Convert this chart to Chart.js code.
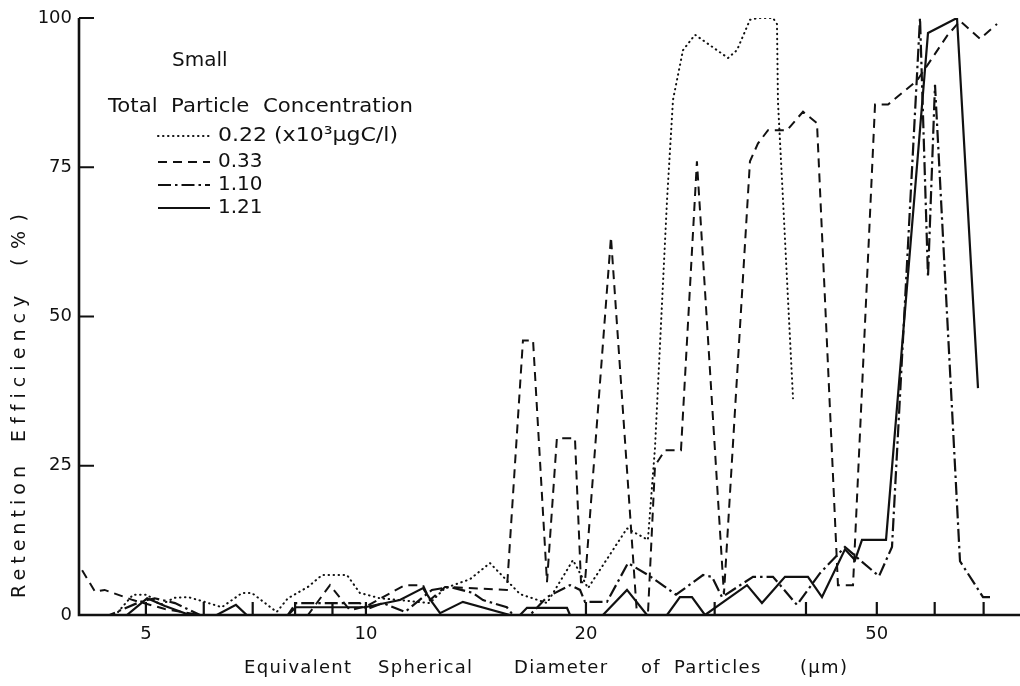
<!DOCTYPE html>
<html>
<head>
<meta charset="utf-8">
<script src="https://cdn.jsdelivr.net/npm/chart.js@4.4.1/dist/chart.umd.min.js"></script>
<style>
  html, body { margin: 0; padding: 0; background: #fff; }
  #wrap { width: 1020px; height: 686px; }
</style>
</head>
<body>
<div id="wrap"><canvas id="chart" width="1020" height="686"></canvas></div>
<script>
/* Retention efficiency vs particle diameter, "Small" filter, four concentrations. */

const INK = "#111";
const FONT = "'DejaVu Sans', 'Liberation Sans', sans-serif";

// axis range and ticks
const xMin = 4.05;
const xMax = 78.5;
const xTickValues = [5, 6, 7, 8, 9, 10, 20, 30, 40, 50, 60, 70];
const xTickLabels = [5, 10, 20, 50];
const yTickValues = [0, 25, 50, 75, 100];

const seriesNames = ["0.22 (x10³µgC/l)", "0.33", "1.10", "1.21"];

// diameter (µm) and retention efficiency (%) per concentration
const dia022 = [4.58, 4.80, 5.02, 5.23, 5.48, 5.71, 6.02, 6.35, 6.77, 6.98, 7.55, 7.82, 8.33, 8.71, 9.42, 9.81, 10.45, 11.13, 12.23, 12.83, 13.88, 14.78, 16.25, 17.69, 19.20, 20.13, 22.76, 24.31, 24.86, 25.41, 25.82, 26.31, 27.15, 28.20, 29.28, 31.29, 32.18, 33.53, 34.39, 36.05, 36.51, 36.62, 37.21, 37.80, 38.40];
const ret022 = [0.5, 3.4, 3.4, 1.7, 2.9, 3.0, 2.2, 1.3, 3.7, 3.7, 0.5, 2.8, 4.7, 6.7, 6.7, 3.7, 2.8, 2.5, 2.0, 4.5, 6.0, 8.7, 3.5, 2.0, 9.2, 4.5, 14.5, 12.6, 28, 52, 69.5, 86.3, 94.6, 97.2, 95.8, 93.3, 94.6, 99.7, 100, 100, 99, 86, 69.5, 52.8, 36.3];

const dia033 = [4.09, 4.26, 4.39, 4.80, 5.31, 5.93, 8.33, 8.93, 9.51, 10.03, 10.55, 11.31, 11.97, 12.23, 12.83, 15.59, 16.40, 16.93, 17.69, 18.25, 19.32, 19.69, 19.94, 21.64, 23.49, 24.31, 24.86, 25.65, 26.98, 28.37, 30.89, 33.53, 34.39, 35.49, 37.68, 39.63, 41.41, 44.24, 46.39, 49.72, 51.80, 56.75, 62.38, 64.98, 69.21, 73.02];
const ret033 = [7.5, 3.9, 4.2, 2.5, 1.0, 0, 0, 5.0, 0.8, 1.5, 3.0, 5.0, 5.0, 2.5, 4.7, 4.2, 46, 46, 5.5, 29.6, 29.6, 5.5, 5.5, 63.3, 0, 0, 25, 27.6, 27.6, 76, 3.5, 76, 79, 81.2, 81.2, 84.3, 82.4, 5.0, 5.0, 85.5, 85.5, 89.5, 97, 99.5, 96.5, 99];

const dia110 = [4.05, 4.46, 4.91, 5.14, 5.48, 5.93, 7.82, 8.02, 9.81, 10.03, 10.55, 11.31, 12.31, 13.03, 14.01, 14.46, 15.59, 15.89, 16.77, 17.69, 19.02, 19.63, 19.94, 21.37, 22.83, 24.47, 26.56, 28.92, 29.75, 30.70, 33.85, 36.05, 38.88, 41.81, 45.23, 47.42, 50.35, 52.45, 57.29, 58.75, 60.06, 64.98, 69.87, 71.42];
const ret110 = [0, 0, 2.2, 2.8, 2.0, 0, 0, 2.0, 2.0, 1.0, 2.0, 0.5, 4.2, 4.7, 3.7, 2.5, 1.3, 0, 0, 3.0, 5.0, 4.2, 2.2, 2.2, 8.7, 6.5, 3.4, 6.7, 6.4, 3.0, 6.4, 6.4, 1.7, 7.0, 11.4, 9.2, 6.5, 11.4, 100, 56.6, 88.8, 9.0, 3.0, 3.0];

const dia121 = [4.05, 4.71, 5.02, 5.31, 5.74, 6.25, 6.64, 6.87, 7.82, 8.02, 9.97, 11.13, 11.97, 12.31, 12.63, 13.57, 15.74, 16.25, 16.61, 18.84, 19.02, 21.10, 22.76, 24.24, 25.82, 26.89, 27.93, 29.10, 33.22, 34.82, 37.44, 40.25, 42.07, 45.23, 46.68, 47.72, 51.47, 58.75, 64.37, 68.77];
const ret121 = [0, 0, 2.8, 1.5, 0, 0, 1.7, 0, 0, 1.3, 1.3, 2.5, 4.5, 2.2, 0.3, 2.2, 0, 0, 1.2, 1.2, 0, 0, 4.2, 0, 0, 3.0, 3.0, 0, 5.0, 2.0, 6.4, 6.4, 3.0, 11.0, 9.2, 12.6, 12.6, 97.5, 100, 38];

const lineStyles = [
  { dash: [0.5, 4.5], width: 2, cap: "round" },
  { dash: [9, 6], width: 2, cap: "butt" },
  { dash: [13, 4, 2.5, 4], width: 2.2, cap: "butt" },
  { dash: [], width: 2.2, cap: "butt" },
];

function pairs(xs, ys) {
  return xs.map((x, i) => ({ x, y: ys[i] }));
}

function makeSet(i, xs, ys) {
  const s = lineStyles[i];
  return {
    label: seriesNames[i],
    data: pairs(xs, ys),
    borderColor: INK,
    borderWidth: s.width,
    borderDash: s.dash,
    borderCapStyle: s.cap,
    borderJoinStyle: "miter",
    pointRadius: 0,
    tension: 0,
    fill: false,
  };
}

function strokeSample(ctx, i, x0, x1, y) {
  const s = lineStyles[i];
  ctx.save();
  ctx.setLineDash(s.dash);
  ctx.lineCap = s.cap;
  ctx.lineWidth = s.width;
  ctx.beginPath();
  ctx.moveTo(x0, y);
  ctx.lineTo(x1, y);
  ctx.stroke();
  ctx.restore();
}

// text widened (horizontal stretch) to run from x0 to x1
function stretchText(ctx, text, x0, x1, y) {
  const w = ctx.measureText(text).width;
  ctx.save();
  ctx.textAlign = "left";
  ctx.translate(x0, y);
  ctx.scale((x1 - x0) / w, 1);
  ctx.fillText(text, 0, 0);
  ctx.restore();
}

// text letter-spaced to run from x0 to x1
function spacedText(ctx, text, x0, x1, y) {
  ctx.letterSpacing = "0px";
  const w = ctx.measureText(text).width;
  const n = Math.max(text.length - 1, 1);
  ctx.letterSpacing = Math.max(0, (x1 - x0 - w) / n) + "px";
  ctx.textAlign = "left";
  ctx.fillText(text, x0, y);
  ctx.letterSpacing = "0px";
}

// axes with inward ticks, legend block and axis titles, drawn in paper style
const paperAxes = {
  id: "paperAxes",
  afterDraw(chart) {
    const { ctx, chartArea: a, scales } = chart;
    const x = scales.x;
    const y = scales.y;
    ctx.save();
    ctx.strokeStyle = INK;
    ctx.fillStyle = INK;

    ctx.lineWidth = 2.6;
    ctx.beginPath();
    ctx.moveTo(a.left, y.getPixelForValue(100));
    ctx.lineTo(a.left, a.bottom);
    ctx.lineTo(a.right, a.bottom);
    ctx.stroke();

    ctx.lineWidth = 2.2;
    ctx.beginPath();
    yTickValues.forEach((v) => {
      if (v === 0) return;
      const py = y.getPixelForValue(v);
      ctx.moveTo(a.left, py);
      ctx.lineTo(a.left + 15, py);
    });
    xTickValues.forEach((v) => {
      const px = x.getPixelForValue(v);
      ctx.moveTo(px, a.bottom);
      ctx.lineTo(px, a.bottom - 13);
    });
    ctx.stroke();

    // legend
    ctx.font = `20px ${FONT}`;
    ctx.textBaseline = "middle";
    ctx.textAlign = "left";
    ctx.fillText("Small", 172, 61);
    stretchText(ctx, "Total  Particle  Concentration", 108, 413, 107);
    const rows = [136, 162, 185, 208];
    rows.forEach((ry, i) => strokeSample(ctx, i, 158, 210, ry));
    stretchText(ctx, seriesNames[0], 218, 398, rows[0]);
    for (let i = 1; i < 4; i++) ctx.fillText(seriesNames[i], 218, rows[i]);

    // x title
    ctx.font = `18px ${FONT}`;
    ctx.textBaseline = "alphabetic";
    ctx.letterSpacing = "1.3px";
    const words = [["Equivalent", 244], ["Spherical", 378], ["Diameter", 514], ["of", 641], ["Particles", 674], ["(µm)", 800]];
    words.forEach(([w, x0]) => ctx.fillText(w, x0, 673));
    ctx.letterSpacing = "0px";

    // y title (runs bottom to top)
    ctx.save();
    ctx.translate(25, 0);
    ctx.rotate(-Math.PI / 2);
    ctx.font = `19px ${FONT}`;
    const yWords = [["Retention", 598, 466], ["Efficiency", 442, 296], ["(%)", 266, 214]];
    yWords.forEach(([w, b, t]) => spacedText(ctx, w, -b, -t, 0));
    ctx.restore();

    ctx.restore();
  },
};

const chart = new Chart(document.getElementById("chart"), {
  type: "line",
  data: {
    datasets: [
      makeSet(0, dia022, ret022),
      makeSet(1, dia033, ret033),
      makeSet(2, dia110, ret110),
      makeSet(3, dia121, ret121),
    ],
  },
  options: {
    responsive: false,
    animation: false,
    layout: { padding: { top: 18, right: 0, left: 0, bottom: 0 } },
    plugins: { legend: { display: false }, tooltip: { enabled: false } },
    scales: {
      x: {
        type: "logarithmic",
        min: xMin,
        max: xMax,
        grid: { display: false, drawTicks: false },
        border: { display: false },
        afterBuildTicks: (s) => {
          s.ticks = xTickValues.map((v) => ({ value: v }));
        },
        afterFit: (s) => {
          s.height = 71;
        },
        ticks: {
          autoSkip: false,
          maxRotation: 0,
          padding: 9,
          color: INK,
          font: { family: FONT, size: 18 },
          callback: (v) => (xTickLabels.includes(v) ? String(v) : ""),
        },
      },
      y: {
        type: "linear",
        min: 0,
        max: 100,
        grid: { display: false, drawTicks: false },
        border: { display: false },
        afterBuildTicks: (s) => {
          s.ticks = yTickValues.map((v) => ({ value: v }));
        },
        afterFit: (s) => {
          s.width = 79;
        },
        ticks: {
          padding: 7,
          color: INK,
          font: { family: FONT, size: 18 },
        },
      },
    },
  },
  plugins: [paperAxes],
});
</script>
</body>
</html>
